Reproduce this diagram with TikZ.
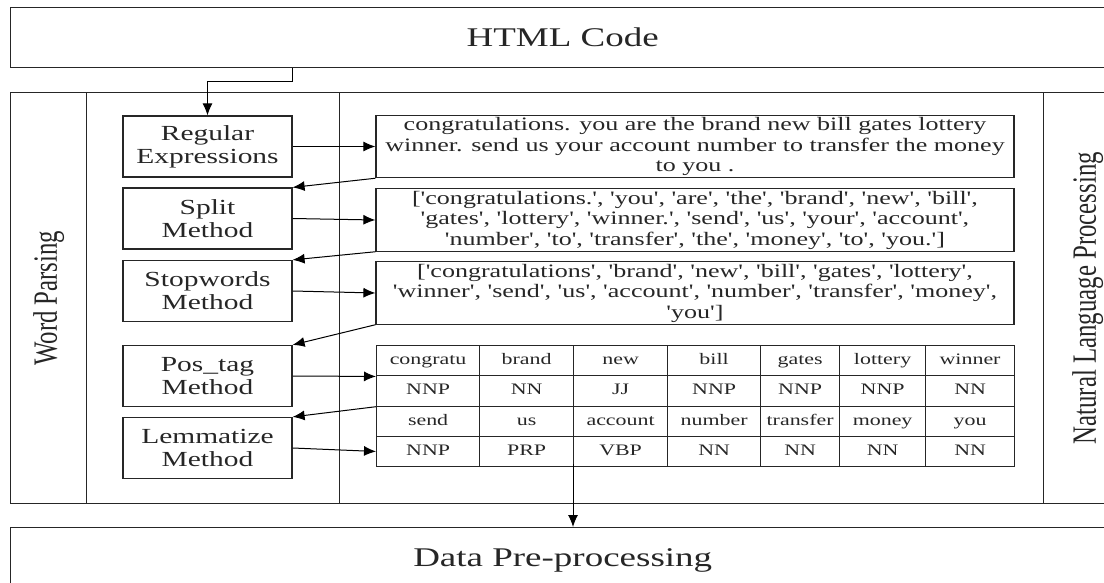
\documentclass[tikz,border=0pt]{standalone}
\usepackage{fontspec}
\setmainfont{Liberation Serif}[FakeStretch=1.37,Ligatures=TeXOff]
\newfontfamily\sidefont{Liberation Serif}[FakeStretch=0.73]
\usetikzlibrary{arrows.meta}

\begin{document}
\begin{tikzpicture}[x=1pt,y=-1pt]
\tikzstyle{frame} = [draw=black!85, line width=1.4pt, inner sep=0pt, anchor=north west]
\tikzstyle{stage} = [frame, minimum width=1104, text=black!85, font=\fontsize{27}{30}\selectfont]
\tikzstyle{side} = [rotate=90, text=black!85, font=\sidefont\fontsize{34}{36}\selectfont]
\tikzstyle{method} = [draw=black!85, line width=1.2pt, minimum width=169, minimum height=61, align=center, text=black!85, font=\fontsize{21.5}{23}\selectfont]
\tikzstyle{result} = [draw=black!85, line width=1.2pt, minimum width=638, minimum height=61, inner sep=2pt, align=center, text=black!85, font=\fontsize{19}{20.5}\selectfont]
\tikzstyle{cell} = [draw=black!85, line width=1.2pt, anchor=north west, inner sep=0pt, minimum height=30.25, text height=11pt, text depth=3pt, text=black!85, font=\fontsize{16}{18}\selectfont]
\tikzstyle{flow} = [draw=black, line width=1pt, -{Latex[length=12pt,width=10pt]}]

\useasboundingbox (0,0) rectangle (1104,583);
\clip (0,0) rectangle (1104,583);

% top and bottom stages
\node[stage, minimum height=60] (html) at (10,7) {HTML Code};
\node[stage, minimum height=66] (data) at (10,527) {Data Pre-processing};

% columns of the middle block
\node[frame, minimum width=76, minimum height=411] (wpcol) at (10,92) {};
\node[frame, minimum width=253, minimum height=411] (mcol) at (86,92) {};
\node[frame, minimum width=704, minimum height=411] (tcol) at (339,92) {};
\node[frame, minimum width=80, minimum height=411] (nlpcol) at (1043,92) {};
\node[side] (wp) at (wpcol.center) {Word Parsing};
\node[side] (nlp) at ([xshift=4pt]nlpcol.center) {Natural Language Processing};

% methods
\node[method] (regex) at (207.5,146.5) {Regular\\Expressions};
\node[method] (split) at (207.5,218.5) {Split\\Method};
\node[method] (stop) at (207.5,291) {Stopwords\\Method};
\node[method] (pos) at (207.5,376) {Pos\_tag\\Method};
\node[method] (lem) at (207.5,448) {Lemmatize\\Method};

% outputs
\node[result] (txt1) at (695,146.5) {congratulations. you are the brand new bill gates lottery\\winner. send us your account number to transfer the money\\to you .};
\node[result, minimum height=60] (txt2) at (695,220) {['congratulations.', 'you', 'are', 'the', 'brand', 'new', 'bill',\\'gates', 'lottery', 'winner.', 'send', 'us', 'your', 'account',\\'number', 'to', 'transfer', 'the', 'money', 'to', 'you.']};
\node[result, minimum height=60] (txt3) at (695,293) {['congratulations', 'brand', 'new', 'bill', 'gates', 'lottery',\\'winner', 'send', 'us', 'account', 'number', 'transfer', 'money',\\'you']};

% pos tag table
\node[cell, minimum width=103] (w1) at (376,345) {congratu};
\node[cell, minimum width=94] (w2) at (479,345) {brand};
\node[cell, minimum width=94] (w3) at (573,345) {new};
\node[cell, minimum width=93] (w4) at (667,345) {bill};
\node[cell, minimum width=79] (w5) at (760,345) {gates};
\node[cell, minimum width=86] (w6) at (839,345) {lottery};
\node[cell, minimum width=89] (w7) at (925,345) {winner};
\node[cell, minimum width=103] (g1) at (376,375.25) {NNP};
\node[cell, minimum width=94] (g2) at (479,375.25) {NN};
\node[cell, minimum width=94] (g3) at (573,375.25) {JJ};
\node[cell, minimum width=93] (g4) at (667,375.25) {NNP};
\node[cell, minimum width=79] (g5) at (760,375.25) {NNP};
\node[cell, minimum width=86] (g6) at (839,375.25) {NNP};
\node[cell, minimum width=89] (g7) at (925,375.25) {NN};
\node[cell, minimum width=103] (w8) at (376,405.5) {send};
\node[cell, minimum width=94] (w9) at (479,405.5) {us};
\node[cell, minimum width=94] (w10) at (573,405.5) {account};
\node[cell, minimum width=93] (w11) at (667,405.5) {number};
\node[cell, minimum width=79] (w12) at (760,405.5) {transfer};
\node[cell, minimum width=86] (w13) at (839,405.5) {money};
\node[cell, minimum width=89] (w14) at (925,405.5) {you};
\node[cell, minimum width=103] (g8) at (376,435.75) {NNP};
\node[cell, minimum width=94] (g9) at (479,435.75) {PRP};
\node[cell, minimum width=94] (g10) at (573,435.75) {VBP};
\node[cell, minimum width=93] (g11) at (667,435.75) {NN};
\node[cell, minimum width=79] (g12) at (760,435.75) {NN};
\node[cell, minimum width=86] (g13) at (839,435.75) {NN};
\node[cell, minimum width=89] (g14) at (925,435.75) {NN};

% flow
\draw[flow] (html.south -| regex.east) -- ++(0,13) -| (regex.north);
\draw[flow] (regex.east) -- (txt1.west);
\draw[flow] (txt1.south west) -- (split.north east);
\draw[flow] (split.east) -- (txt2.west);
\draw[flow] (txt2.south west) -- (stop.north east);
\draw[flow] (stop.east) -- (txt3.west);
\draw[flow] (txt3.south west) -- (pos.north east);
\draw[flow] (pos.east) -- (w1.south west);
\draw[flow] (g1.south west) -- (lem.north east);
\draw[flow] (lem.east) -- (g8.west);
\draw[flow] ([yshift=3pt]g10.south west) -- (g10.south west |- data.north);
\end{tikzpicture}
\end{document}
